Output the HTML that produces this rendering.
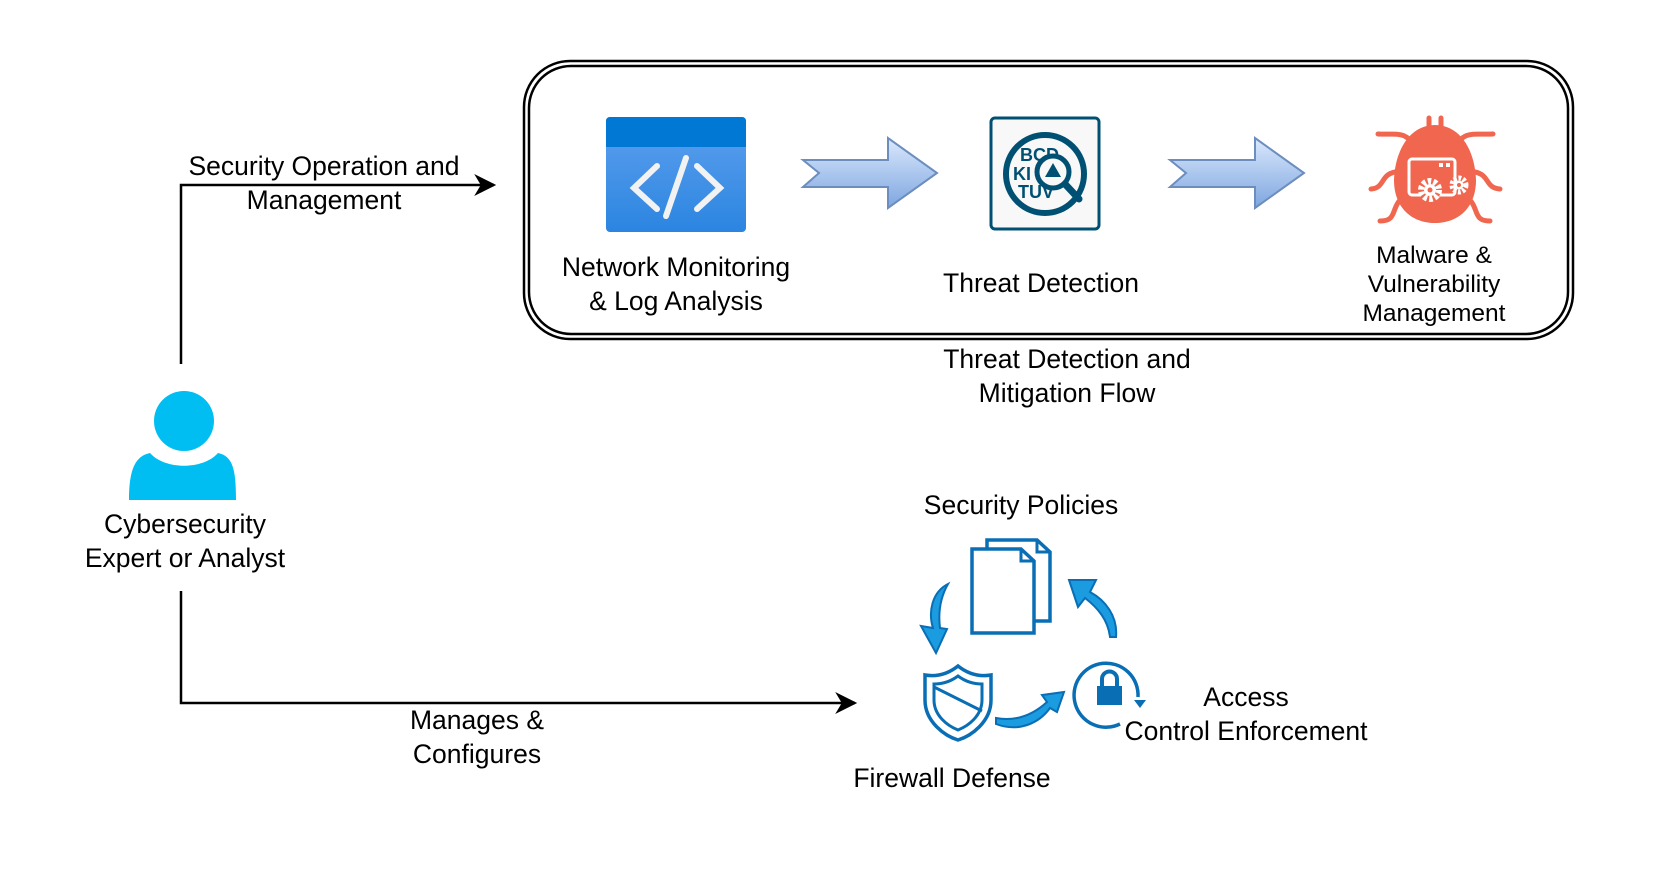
<!DOCTYPE html>
<html><head><meta charset="utf-8"><style>
html,body{margin:0;padding:0;background:#fff;}
svg{display:block;}
text{font-family:"Liberation Sans",Arial,sans-serif;fill:#000;}
</style></head><body>
<svg width="1661" height="893" viewBox="0 0 1661 893" xmlns="http://www.w3.org/2000/svg">
<defs>
<linearGradient id="ag" x1="0" y1="0" x2="0" y2="1"><stop offset="0" stop-color="#dae8fc"/><stop offset="1" stop-color="#7ea6e0"/></linearGradient>
<linearGradient id="ng" x1="0" y1="0" x2="0" y2="1"><stop offset="0" stop-color="#5ea0ef"/><stop offset="1" stop-color="#2b85e0"/></linearGradient>
<marker id="m" viewBox="0 0 10 10" refX="9" refY="5" markerWidth="24" markerHeight="22" orient="auto" markerUnits="userSpaceOnUse"><path d="M0,0 L10,5 L0,10 L3,5 z" fill="#000"/></marker>
</defs>
<rect x="524" y="61" width="1049" height="278" rx="46" fill="none" stroke="#000" stroke-width="2.5"/>
<rect x="529" y="66" width="1039" height="268" rx="42" fill="none" stroke="#000" stroke-width="2.5"/>

<rect x="606" y="117" width="140" height="115" rx="4" fill="url(#ng)"/>
<path d="M610,117 h132 a4,4 0 0 1 4,4 v26 h-140 v-26 a4,4 0 0 1 4,-4z" fill="#0078d4"/>
<g stroke="#f2f2f2" stroke-width="6" stroke-linecap="round" fill="none">
<path d="M657,166 L634,188 L657,209"/><path d="M697,166 L720,188 L697,209"/><path d="M686,158 L666,216"/></g>

<path d="M803,160 H888 V138 L937,173 L888,208 V187 H803 L819,173 Z" fill="url(#ag)" stroke="#6c8ebf" stroke-width="2"/>
<path d="M1170,160 H1255 V138 L1304,173 L1255,208 V187 H1170 L1186,173 Z" fill="url(#ag)" stroke="#6c8ebf" stroke-width="2"/>

<rect x="991" y="118" width="108" height="111" rx="4" fill="#f8f8f8" stroke="#005073" stroke-width="3"/>
<circle cx="1045" cy="174" r="39" fill="none" stroke="#005073" stroke-width="6"/>
<text x="1020" y="161" font-size="18" font-weight="bold" style="fill:#005073">BCD</text>
<text x="1013" y="180" font-size="18" font-weight="bold" style="fill:#005073">KI</text>
<text x="1018" y="198" font-size="18" font-weight="bold" style="fill:#005073">TUV</text>
<circle cx="1053" cy="172" r="16" fill="#f8f8f8" stroke="#005073" stroke-width="5"/>
<path d="M1053,163 L1061,177 H1045 Z" fill="#005073"/>
<path d="M1065,184 L1079,199" stroke="#005073" stroke-width="7" stroke-linecap="round"/>

<g fill="#f0664f" stroke="#f0664f">
<g stroke-width="5" fill="none" stroke-linecap="round">
<path d="M1429,126 v-8 M1441,126 v-8"/>
<path d="M1416,148 C1405,130 1398,135 1378,134"/><path d="M1454,148 C1465,130 1472,135 1493,134"/>
<path d="M1395,172 C1380,175 1385,188 1371,189"/><path d="M1475,172 C1490,175 1485,188 1500,189"/>
<path d="M1403,197 C1390,208 1398,221 1380,221"/><path d="M1467,197 C1480,208 1472,221 1490,221"/>
</g>
<path d="M1435,125 C1410,125 1395,150 1394,180 C1394,208 1412,223 1435,223 C1458,223 1476,208 1476,180 C1475,150 1460,125 1435,125Z" stroke="none"/>
</g>
<rect x="1409" y="159" width="46" height="36" rx="3" fill="none" stroke="#fff" stroke-width="3"/>
<rect x="1439" y="163" width="4" height="4" fill="#fff"/><rect x="1446" y="163" width="4" height="4" fill="#fff"/>
<circle cx="1430" cy="190" r="11" fill="#f0664f"/>
<circle cx="1430" cy="190" r="9" fill="none" stroke="#fff" stroke-width="6" stroke-dasharray="3.5 2.2"/>
<circle cx="1430" cy="190" r="6" fill="#fff"/><circle cx="1430" cy="190" r="2.5" fill="#f0664f"/>
<circle cx="1459" cy="185" r="7" fill="none" stroke="#fff" stroke-width="5" stroke-dasharray="2.8 1.8"/>
<circle cx="1459" cy="185" r="4.5" fill="#fff"/><circle cx="1459" cy="185" r="2" fill="#f0664f"/>

<g font-size="26.5" text-anchor="middle">
<text x="676" y="276">Network Monitoring</text>
<text x="676" y="310">&amp; Log Analysis</text>
<text x="1041" y="292">Threat Detection</text>
<text x="1067" y="368">Threat Detection and</text>
<text x="1067" y="402">Mitigation Flow</text>
<text x="324" y="175">Security Operation and</text>
<text x="324" y="209">Management</text>
<text x="185" y="533">Cybersecurity</text>
<text x="185" y="567">Expert or Analyst</text>
<text x="477" y="729">Manages &amp;</text>
<text x="477" y="763">Configures</text>
<text x="1021" y="514">Security Policies</text>
<text x="1246" y="706">Access</text>
<text x="1246" y="740">Control Enforcement</text>
<text x="952" y="787">Firewall Defense</text>
</g>
<g font-size="24.5" text-anchor="middle">
<text x="1434" y="263">Malware &amp;</text>
<text x="1434" y="292">Vulnerability</text>
<text x="1434" y="321">Management</text>
</g>

<path d="M181,364 V185 H494" fill="none" stroke="#000" stroke-width="2.5" marker-end="url(#m)"/>
<path d="M181,591 V703 H855" fill="none" stroke="#000" stroke-width="2.5" marker-end="url(#m)"/>

<circle cx="184" cy="421" r="30" fill="#00bef2"/>
<path d="M129,500 C129,470 135,456 150,453 C165,470 203,470 218,453 C233,456 236,470 236,500 Z" fill="#00bef2"/>

<g fill="#fff" stroke="#0a6eb4" stroke-width="3.5">
<path d="M987,540 H1037 L1050,552 V621 H987 Z"/>
<path d="M972,549 H1021 L1034,561 V633 H972 Z"/>
</g>
<path d="M1021,549 V561 H1034" fill="none" stroke="#0a6eb4" stroke-width="3"/>
<path d="M1037,540 V552 H1050" fill="none" stroke="#0a6eb4" stroke-width="3"/>
<g fill="#1b9be0" stroke="#0a6eb4" stroke-width="2">
<path d="M948,584 C932,592 928,612 933,628 L921,626 L936,653 L947,629 L940,628 C938,612 940,598 948,584 Z"/>
<path d="M1116,637 C1118,616 1105,600 1090,592 L1096,580 L1069,580 L1078,607 L1085,598 C1098,608 1108,620 1110,637 Z"/>
<path d="M996,724 C1020,733 1040,722 1050,708 L1057,712 L1064,692 L1042,695 L1047,702 C1035,713 1018,722 996,718 Z"/>
</g>
<path d="M958,666 C948,674 937,677 925,675 V700 C925,722 945,736 958,740 C971,736 991,722 991,700 V675 C979,677 968,674 958,666 Z" fill="#fff" stroke="#0a6eb4" stroke-width="3.5"/>
<path d="M958,676 C950,682 942,684 934,684 V700 C934,716 948,726 958,730 C968,726 982,716 982,700 V684 C974,684 966,682 958,676 Z" fill="none" stroke="#0a6eb4" stroke-width="3"/>
<path d="M934,687 L982,711" stroke="#0a6eb4" stroke-width="3"/>
<path d="M1120,724 A32,32 0 1 1 1138,697" fill="none" stroke="#0a6eb4" stroke-width="3.5"/>
<path d="M1134,700 L1146,700 L1140,708 Z" fill="#0a6eb4"/>
<rect x="1097" y="686" width="25" height="19" fill="#0a6eb4"/>
<path d="M1102,687 V679 A7.5,7.5 0 0 1 1117,679 V687" fill="none" stroke="#0a6eb4" stroke-width="4"/>
</svg>
</body></html>
